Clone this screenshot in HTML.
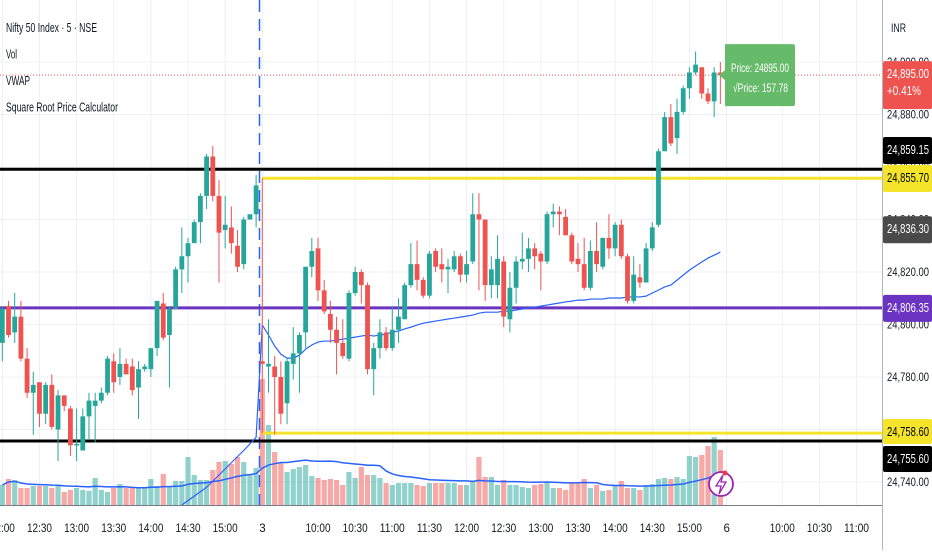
<!DOCTYPE html>
<html><head><meta charset="utf-8"><style>
body{margin:0;background:#fff;width:932px;height:550px;overflow:hidden;font-family:"Liberation Sans",sans-serif}
svg text{font-family:"Liberation Sans",sans-serif}
</style></head><body>
<svg id="c" width="932" height="550" xmlns="http://www.w3.org/2000/svg"></svg>
<script>
const opens=[24793,24807,24797,24803,24787,24774,24778,24766,24777,24760,24773,24768,24754,24752,24765,24769,24771,24774,24786,24780,24785,24784,24776,24783,24783,24791,24808,24796,24806,24821,24826,24831,24839,24849,24864,24849,24836,24837,24830,24823,24840,24842,
24786,24784,24784,24780,24770,24785,24789,24797,24822,24829,24813,24804,24798,24793,24787,24812,24820,24815,24783,24791,24797,24791,24798,24802,24815,24823,24817,24811,24828,24823,24821,24821,24826,24819,24824,24842,24840,24815,24815,24824,24802,24814,24824,24825,24829,24827,24824,24842,24843,24841,24834,24825,24823,24814,24828,24822,24833,24829,24838,24826,24809,24818,24816,24829,24838,24866,24879,24871,24881,24890,24896,24898,24888,24885,24896];
const closes=[24806,24796,24803,24787,24774,24777,24766,24777,24761,24773,24769,24754,24754.5,24765,24771,24771,24774,24787,24778,24785,24781,24775,24783,24784,24791,24809,24795,24806,24821,24826,24831,24839,24849,24864,24849,24835,24838,24831,24822,24840,24842,24853,
24785,24785,24780,24766,24786,24789,24796,24822,24828,24813,24805,24798,24793,24788,24812,24820,24815,24783,24791,24797,24791,24798,24803,24815,24823,24817,24811,24827,24822,24821,24822,24826,24819,24823,24842,24840,24815,24821,24825,24803,24814,24824,24825,24829,24826,24824,24842,24843,24842,24834,24824,24823,24814,24828,24823,24833,24829,24838,24826,24809,24819,24816,24829,24837,24866,24879,24869,24881,24890,24896,24899,24888,24885,24896,24895];
const highs=[24807,24809,24812,24809,24791,24782,24778,24778,24781,24775,24773,24769,24768,24768,24774,24774,24776,24788,24789,24791,24787,24787,24786,24785,24791,24809,24812,24807,24822,24837,24833,24840,24850,24865,24868,24855,24849,24845,24836,24841,24842,24857,
24855.7,24802,24788,24786,24787,24799,24797,24822,24833,24833,24817,24809,24803,24802,24813,24822,24821,24816,24793,24802,24799,24807,24810,24816,24831,24832,24818,24828,24829,24829,24825,24828,24827,24828,24850,24850,24840,24826,24834,24826,24820,24826,24835,24833,24831,24828,24843,24846,24845,24844,24835,24831,24833,24832,24839,24833,24842,24839,24840,24827,24826,24823,24831,24839,24867,24881,24884,24886,24891,24898,24904,24898,24890,24898,24900];
const lows=[24786,24795,24793,24786,24772,24758,24761,24762,24760,24748,24767,24750,24748,24752,24756,24755,24770,24773,24774,24777,24781,24773,24764,24782,24780,24788,24794,24776,24806,24812,24816,24831,24831,24844,24847,24816,24829,24827,24820,24821,24840,24837,
24758.6,24774,24758,24762,24762,24779,24774,24791,24818,24809,24804,24793,24781,24787,24786,24811,24808,24781,24773,24787,24790,24790,24793,24802,24814,24813,24810,24810,24820,24816,24812,24820,24816,24816,24823,24813,24809,24810,24810,24799,24797,24808,24821,24820,24821,24813,24823,24837,24834,24834,24823,24820,24813,24813,24820,24821,24825,24826,24825,24808,24808,24814,24816,24828,24837,24866,24868,24865,24880,24886,24895,24886,24884,24879,24884];
const volumes=[20,26,25,17,17,19,19,19,17,19,13,15,17,15,14,27,15,13,17,21,17,17,17,18,26,19,31,19,24,24,48,30,25,25,35,43,44,41,48,43,31,37,
126,80,53,42,33,36,38,40,29,27,25,26,25,20,33,27,38,30,30,27,22,20,22,22,22,20,19,22,22,22,22,22,20,20,23,48,28,28,20,25,20,20,18,17,20,21,22,17,17,15,22,23,26,17,20,14,15,20,24,17,17,15,20,21,26,27,26,28,26,49,48,50,59,68,55];
const vwapDay3=[24799.8,24796.0,24791.8,24788.7,24787.2,24787.2,24788.3,24790.6,24792.2,24793.3,24793.7,24793.7,24794.1,24794.4,24794.8,24795.2,24795.6,24796.0,24795.6,24796.0,24796.3,24797.1,24797.5,24798.3,24799.0,24799.8,24800.5,24800.9,24801.3,24801.7,24802.1,24802.4,24802.8,24803.2,24803.6,24804.3,24804.7,24804.7,24804.7,24805.1,24805.1,24805.5,24805.9,24806.3,24806.6,24807.0,24807.4,24807.8,24808.2,24808.6,24808.9,24809.3,24809.3,24809.7,24809.7,24809.7,24810.1,24810.1,24810.1,24810.5,24810.5,24810.5,24810.8,24812.0,24813.1,24814.3,24815.0,24816.9,24818.8,24820.7,24822.3,24823.8,24825.3,24826.4,24827.6];
const vwapDay1Idx=[29,33,36,39,41];
const vwapDay1=[24728,24738,24745,24752,24757];
const tickPrices=[24900,24880,24860,24840,24820,24800,24780,24760,24740];
const tickLabels=["24,900.00","24,880.00","24,860.00","24,840.00","24,820.00","24,800.00","24,780.00","24,760.00","24,740.00"];
const timeIdx=[0,6,12,18,24,30,36,42,51,57,63,69,75,81,87,93,99,105,111,117,126,132,138];
const timeLabels=["12:00","12:30","13:00","13:30","14:00","14:30","15:00","3","10:00","10:30","11:00","11:30","12:00","12:30","13:00","13:30","14:00","14:30","15:00","6","10:00","10:30","11:00"];
const levelPrices=[24859.15,24855.70,24806.35,24758.60,24755.60];
const levelColors=["#000","#f5e52a","#6a33c2","#f5e52a","#000"];
const levelFromDay3=[false,true,false,true,false];
const lastPrice=24895.00, sqrtPrice=157.78, changePct="+0.41%", vwapLast=24836.30;

const S=document.getElementById('c'),NS="http://www.w3.org/2000/svg";
const PR=882, VB=505, D3=42;
function X(k){return 262.3+6.19*(k-D3);}
function Y(p){return 482-(p-24740)*2.625;}
function VY(v){return VB-v;}
function mk(t,a,par){const e=document.createElementNS(NS,t);for(const k in a)e.setAttribute(k,a[k]);(par||S).appendChild(e);return e;}
function fit(t,w){t.setAttribute('textLength',w);t.setAttribute('lengthAdjust','spacingAndGlyphs');}
const G="#26a69a",R="#ef5350";
const grid=mk('g',{});


tickPrices.forEach(p=>mk('line',{x1:0,x2:PR,y1:Y(p),y2:Y(p),stroke:'#eef0f5','stroke-width':1},grid));
timeIdx.forEach(k=>{const x=X(k);if(x<PR)mk('line',{x1:x,x2:x,y1:0,y2:VB,stroke:'#eef0f5','stroke-width':1},grid);});
const vg=mk('g',{});


volumes.forEach((v,k)=>{const up=closes[k]>=opens[k];const b=mk('rect',{x:X(k)-2.6,y:VY(v),width:5.2,height:v,fill:up?'rgba(38,166,154,0.5)':'rgba(239,83,80,0.5)'},vg);

});
let ma=[];volumes.forEach((v,k)=>{const s=volumes.slice(Math.max(0,k-19),k+1);ma.push(s.reduce((a,b)=>a+b,0)/s.length);});
const vma=mk('polyline',{points:ma.map((m,k)=>X(k)+','+VY(m)).join(' '),fill:'none',stroke:'#2962ff','stroke-width':1.5});


const sep=mk('line',{x1:259.5,x2:259.5,y1:0,y2:VB,stroke:'#2962ff','stroke-width':1.5,'stroke-dasharray':'12,7'});


levelPrices.forEach((p,i)=>{const l=mk('line',{x1:levelFromDay3[i]?X(D3):0,x2:PR,y1:Y(p),y2:Y(p),stroke:levelColors[i],'stroke-width':3});

});
const pl=mk('line',{x1:0,x2:PR,y1:Y(lastPrice),y2:Y(lastPrice),stroke:'#ef5350','stroke-width':1,'stroke-dasharray':'1,2'});


const v1=mk('polyline',{points:vwapDay1.map((p,i)=>X(vwapDay1Idx[i])+','+Math.min(VB,Y(p))).join(' ')+' '+X(D3)+','+Y(vwapDay3[0]),fill:'none',stroke:'#2962ff','stroke-width':1.2});


const v3=mk('polyline',{points:vwapDay3.map((p,i)=>X(D3+i)+','+Y(p)).join(' '),fill:'none',stroke:'#2962ff','stroke-width':1.2});


const cg=mk('g',{});


opens.forEach((o,k)=>{const c=closes[k],up=c>=o,col=up?G:R,x=X(k);
const w=mk('line',{x1:x,x2:x,y1:Y(highs[k]),y2:Y(lows[k]),stroke:col,'stroke-width':1},cg);


const t=Math.min(Y(o),Y(c)),h=Math.max(1.5,Math.abs(Y(o)-Y(c)));
const b=mk('rect',{x:x-2.4,y:t,width:4.8,height:h,fill:col},cg);

});
const tg=mk('g',{});


const ty=Y(lastPrice);
mk('path',{d:`M725 ${ty-31} h68 a2 2 0 0 1 2 2 v58 a2 2 0 0 1 -2 2 h-68 v-26 l-6 -5 l6 -5 z`,fill:'#66bb6a'},tg);
const t1=mk('text',{x:731,y:ty-3,'font-size':12,fill:'#fff'},tg);t1.textContent='Price: '+lastPrice.toFixed(2);fit(t1,58);
const t2=mk('text',{x:733,y:ty+17,'font-size':12,fill:'#fff'},tg);t2.textContent='√Price: '+sqrtPrice.toFixed(2);fit(t2,55);
mk('rect',{x:PR,y:0,width:50,height:550,fill:'#fff'});
const ax=mk('line',{x1:PR+0.5,x2:PR+0.5,y1:0,y2:550,stroke:'#b2b5be','stroke-width':1});


const bx=mk('line',{x1:0,x2:PR,y1:VB+0.5,y2:VB+0.5,stroke:'#787b86','stroke-width':1});


const inr=mk('text',{x:891,y:32,'font-size':12,fill:'#131722'});inr.textContent='INR';fit(inr,15);


tickPrices.forEach((p,i)=>{const t=mk('text',{x:887,y:Y(p)+4,'font-size':11.5,fill:'#131722'});t.textContent=tickLabels[i];fit(t,42);

});
timeIdx.forEach((k,i)=>{const x=X(k);if(x>PR)return;const s=timeLabels[i];const t=mk('text',{x:x-(s.length>1?12.5:3),y:532,'font-size':11.5,fill:'#131722'});t.textContent=s;if(s.length>1)fit(t,25);

});
function tag(y0,h,bg,fg,lines,name){const g=mk('g',{});


mk('rect',{x:PR+1,y:y0,width:49,height:h,rx:2,fill:bg},g);
lines.forEach((s,i)=>{const t=mk('text',{x:887,y:y0+17+i*17,'font-size':12.5,fill:fg},g);t.textContent=s;fit(t,s.length>6?42:34);});}
const fmt=v=>v.toLocaleString('en-US',{minimumFractionDigits:2});
tag(Y(lastPrice)-14,48,'#ef5350','#fff',[fmt(lastPrice),changePct],'last-price-tag');
tag(137,27,'#000','#fff',[fmt(levelPrices[0])],'level-tag');
tag(165,27,'#f5e52a','#000',[fmt(levelPrices[1])],'level-tag');
tag(Y(vwapLast)-13,27,'#4a4a4a','#fff',[fmt(vwapLast)],'vwap-tag');
tag(Y(levelPrices[2])-13,27,'#6a33c2','#fff',[fmt(levelPrices[2])],'level-tag');
tag(419,25,'#f5e52a','#000',[fmt(levelPrices[3])],'level-tag');
tag(446,26,'#000','#fff',[fmt(levelPrices[4])],'level-tag');
const leg=["Nifty 50 Index · 5 · NSE","Vol","VWAP","Square Root Price Calculator"],ln=["symbol-title","vol-legend","vwap-legend","indicator-legend"],lw=[91,11,24,112];
leg.forEach((s,i)=>{const t=mk('text',{x:6,y:32+i*26.5,'font-size':13,fill:'#131722'});t.textContent=s;fit(t,lw[i]);

});
const li=mk('g',{});


mk('circle',{cx:721,cy:484,r:12,fill:'#fff',stroke:'#9c27b0','stroke-width':1.8},li);
mk('path',{d:'M723 475 L716 486 L721 486 L719 494 L726 482 L721 482 Z',fill:'none',stroke:'#9c27b0','stroke-width':1.3},li);
mk('circle',{cx:725,cy:473,r:2.5,fill:'#f23645'},li);
</script>
</body></html>
